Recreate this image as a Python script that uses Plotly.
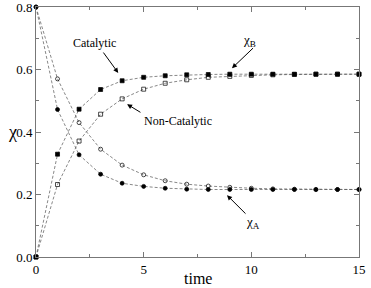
import plotly.graph_objects as go

time = list(range(16))
cat_A = [0.8, 0.472, 0.327, 0.265, 0.236, 0.226, 0.220, 0.217, 0.216, 0.216, 0.216, 0.216, 0.216, 0.216, 0.216, 0.216]
noncat_A = [0.8, 0.570, 0.430, 0.345, 0.294, 0.263, 0.244, 0.233, 0.227, 0.223, 0.220, 0.218, 0.217, 0.216, 0.216, 0.216]
cat_B = [0.0, 0.329, 0.473, 0.536, 0.564, 0.575, 0.580, 0.583, 0.584, 0.585, 0.585, 0.585, 0.585, 0.585, 0.585, 0.585]
noncat_B = [0.0, 0.232, 0.371, 0.457, 0.506, 0.537, 0.556, 0.567, 0.575, 0.578, 0.581, 0.583, 0.584, 0.585, 0.585, 0.585]

x_ticks = [0, 5, 10, 15]
y_ticks = [0.0, 0.2, 0.4, 0.6, 0.8]

FONT = "Liberation Serif, Times New Roman, Times, serif"
line = dict(color="#555", width=0.7, dash="3px,2px")

fig = go.Figure()
series = [
    (noncat_A, "circle-open", 4),
    (noncat_B, "square-open", 4),
    (cat_A, "circle", 4),
    (cat_B, "square", 4),
]
for ys, sym, sz in series:
    fig.add_trace(go.Scatter(
        x=time, y=ys, mode="lines+markers",
        line=line,
        marker=dict(symbol=sym, size=sz, color="black",
                    line=dict(color="black", width=0.7)),
        cliponaxis=False, showlegend=False))

axis_common = dict(
    showgrid=False, zeroline=False, showline=True, linecolor="#777", linewidth=1,
    mirror="ticks", ticks="inside", ticklen=5, tickcolor="#777", automargin=False,
    ticklabeloverflow="allow",
    tickfont=dict(family=FONT, size=13, color="black"),
)
fig.update_xaxes(range=[0, 15], tickvals=x_ticks, ticktext=[str(v) for v in x_ticks],
                 minor=dict(ticks="inside", ticklen=3, dtick=2.5, tickcolor="#777"),
                 **axis_common)
fig.update_yaxes(range=[0, 0.8], tickvals=y_ticks, ticktext=[f"{v:.1f}" for v in y_ticks],
                 minor=dict(ticks="inside", ticklen=3, dtick=0.1, tickcolor="#777"),
                 **axis_common)

def arrow(hx, hy, tx, ty):
    fig.add_annotation(x=hx, y=hy, ax=tx, ay=ty, xref="x", yref="y", axref="x", ayref="y",
                       text="", showarrow=True, arrowhead=2, arrowsize=1, arrowwidth=1,
                       arrowcolor="black")

def label(x, y, t, size=12):
    fig.add_annotation(x=x, y=y, xref="x", yref="y", text=t, showarrow=False,
                       font=dict(family=FONT, size=size, color="black"))

arrow(3.82, 0.589, 3.08, 0.659)
label(2.71, 0.685, "Catalytic")
arrow(4.23, 0.489, 4.92, 0.460)
label(6.6, 0.435, "Non-Catalytic")
arrow(9.10, 0.604, 10.15, 0.673)
label(9.9, 0.692, "χ<sub>B</sub>", 13)
arrow(8.87, 0.198, 9.8, 0.134)
label(10.1, 0.112, "χ<sub>A</sub>", 13)

fig.add_annotation(x=-0.072, y=0.5, xref="paper", yref="paper", text="χ", showarrow=False,
                   xanchor="center", yanchor="middle",
                   font=dict(family=FONT, size=18, color="black"))
fig.add_annotation(x=0.5, y=-0.085, xref="paper", yref="paper", text="time", showarrow=False,
                   xanchor="center", yanchor="middle", font=dict(family=FONT, size=16, color="black"))

fig.update_layout(width=371, height=288, margin=dict(l=36, r=12, t=7, b=31),
                  plot_bgcolor="white", paper_bgcolor="white",
                  font=dict(family=FONT, color="black"))
fig.write_html("out.html", config={"displayModeBar": False},
               post_script="document.body.style.margin='0';")
